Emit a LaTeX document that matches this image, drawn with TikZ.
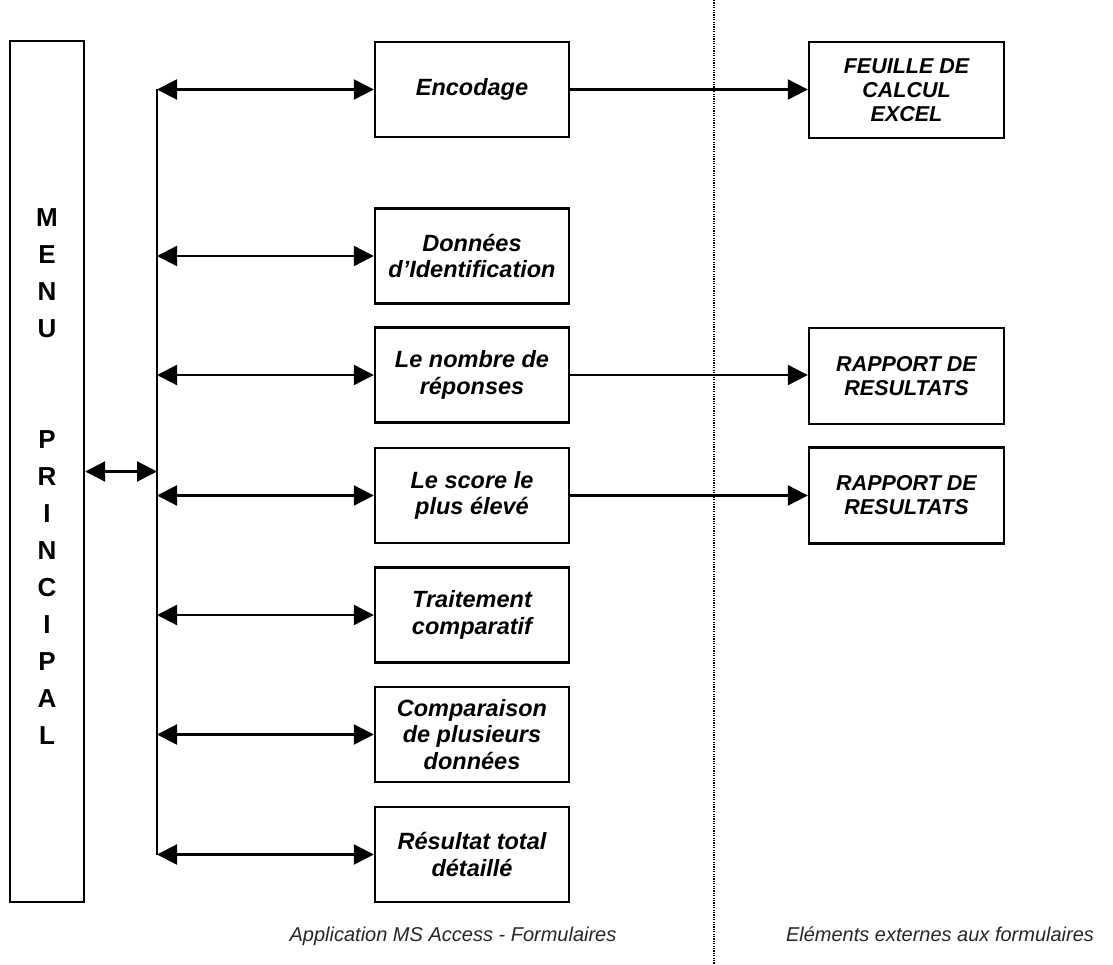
\documentclass[tikz,border=0pt]{standalone}
\usepackage{fontspec}
\setmainfont{Liberation Sans}
\usetikzlibrary{arrows.meta}

\begin{document}
\begin{tikzpicture}[x=1pt,y=-1pt,
  frame/.style={draw, line width=2.4pt, inner sep=0pt, align=center},
  form/.style={frame, minimum width=194pt, minimum height=95pt,
    font=\fontsize{23.5}{26.5}\selectfont\bfseries\itshape},
  ext/.style={frame, minimum width=195pt, minimum height=96pt,
    font=\fontsize{21.5}{24}\selectfont\bfseries\itshape},
  menutext/.style={align=center, inner sep=0pt,
    font=\fontsize{26}{37}\selectfont\bfseries},
  link/.style={line width=2.2pt},
  both/.style={link, {Triangle[length=20pt,width=20pt]}-{Triangle[length=20pt,width=20pt]}},
  fwd/.style={link, -{Triangle[length=20pt,width=20pt]}},
  divider/.style={line width=1.5pt, dash pattern=on 1.2pt off 1.2pt},
  caption/.style={anchor=base, inner sep=0pt, text=black!85, font=\fontsize{20}{24}\selectfont\itshape}
]
\useasboundingbox (0,0) rectangle (1113,965);

% main menu column
\node[frame, minimum width=74pt, minimum height=861pt] (menu) at (47,471.5) {};
\node[menutext] (menulbl) at (47,477) {M\\E\\N\\U\\~\\~\\P\\R\\I\\N\\C\\I\\P\\A\\L};

% forms of the Access application
\node[form] (enc)    at (472,89.5)  {Encodage};
\node[form] (ident)  at (472,256)   {Données\\d'Identification};
\node[form] (nombre) at (472,375)   {Le nombre de\\réponses};
\node[form] (score)  at (472,495.5) {Le score le\\plus élevé};
\node[form] (trait)  at (472,615)   {Traitement\\comparatif};
\node[form] (compar) at (472,734.5) {Comparaison\\de plusieurs\\données};
\node[form] (result) at (472,854.5) {Résultat total\\détaillé};

% external outputs
\node[ext] (excel) at (906.5,90)    {FEUILLE DE\\CALCUL\\EXCEL};
\node[ext] (rap1)  at (906.5,376)   {RAPPORT DE\\RESULTATS};
\node[ext] (rap2)  at (906.5,495.5) {RAPPORT DE\\RESULTATS};

% distribution bus
\coordinate (bustop) at (157,89.5);
\coordinate (busbot) at (157,854.5);
\draw[link] (bustop) -- (busbot);
\draw[both] (menu.east) -- (bustop |- menu.east);
\foreach \f in {enc,ident,nombre,score,trait,compar,result}
  \draw[both] (bustop |- \f.west) -- (\f.west);

% links to external elements
\draw[fwd] (enc.east) -- (enc.east -| excel.west);
\draw[fwd] (nombre.east) -- (nombre.east -| rap1.west);
\draw[fwd] (score.east) -- (score.east -| rap2.west);

% separation between the two zones
\coordinate (divtop) at (714,0);
\coordinate (divbot) at (714,965);
\draw[divider] (divtop) -- (divbot);

\node[caption] (capapp) at (453,941) {Application MS Access - Formulaires};
\node[caption] (capext) at (940,941) {Eléments externes aux formulaires};
\end{tikzpicture}
\end{document}
